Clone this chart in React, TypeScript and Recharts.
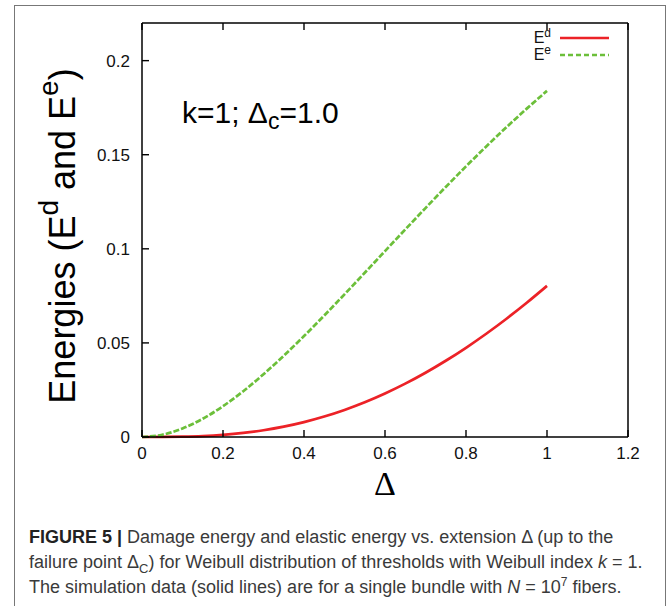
import { LineChart, Line, XAxis, YAxis, Legend } from 'recharts';

// extension Δ
const delta = [0, 0.05, 0.1, 0.15, 0.2, 0.25, 0.3, 0.35, 0.4, 0.45, 0.5, 0.55, 0.6, 0.65, 0.7, 0.75, 0.8, 0.85, 0.9, 0.95, 1.0];
// damage energy E^d
const damageEnergy = [0, 0.00002, 0.00016, 0.0005, 0.00115, 0.00216, 0.0036, 0.00551, 0.00793, 0.01088, 0.01439, 0.01846, 0.02312, 0.02834, 0.03414, 0.04051, 0.04742, 0.05488, 0.06286, 0.07134, 0.0803];
// elastic energy E^e
const elasticEnergy = [0, 0.00119, 0.00452, 0.00968, 0.01638, 0.02434, 0.03334, 0.04316, 0.05363, 0.06456, 0.07582, 0.08726, 0.09879, 0.11027, 0.12166, 0.13286, 0.14379, 0.1544, 0.16466, 0.1745, 0.18394];

const xTicks = [0, 0.2, 0.4, 0.6, 0.8, 1, 1.2];
const yTicks = [0, 0.05, 0.1, 0.15, 0.2];

const data = delta.map((d, i) => ({ delta: d, ed: damageEnergy[i], ee: elasticEnergy[i] }));

const RED = '#ec2227';
const GREEN = '#6cbf3a';
const TICK = 7;
const tickFont = { fontFamily: 'Liberation Sans, Arial, sans-serif', fontSize: 17, fill: '#111' };
const axisLine = { stroke: '#000', strokeWidth: 1.5 };

// gnuplot style: ticks point into the plot on all four sides
const BottomTick = ({ x, y, payload }: any) => (
  <g>
    <line x1={x} x2={x} y1={y} y2={y - TICK} stroke="#000" strokeWidth={1.4} />
    <text x={x} y={y + 22} textAnchor="middle" {...tickFont}>{payload.value}</text>
  </g>
);

const TopTick = ({ x, y }: any) => <line x1={x} x2={x} y1={y} y2={y + TICK} stroke="#000" strokeWidth={1.4} />;

const LeftTick = ({ x, y, payload }: any) => (
  <g>
    <line x1={x} x2={x + TICK} y1={y} y2={y} stroke="#000" strokeWidth={1.4} />
    <text x={x - 12} y={y + 6} textAnchor="end" {...tickFont}>{payload.value}</text>
  </g>
);

const RightTick = ({ x, y }: any) => <line x1={x} x2={x - TICK} y1={y} y2={y} stroke="#000" strokeWidth={1.4} />;

const YLabel = () => {
  const cx = 62;
  const cy = 22 + 416 / 2 + 6;
  return (
    <text
      x={cx}
      y={cy}
      transform={`rotate(-90 ${cx} ${cy})`}
      textAnchor="middle"
      dominantBaseline="central"
      fontFamily="Liberation Sans, Arial, sans-serif"
      fontSize={36}
      fill="#000"
    >
      Energies (E<tspan dy={-14} fontSize={28}>d</tspan>
      <tspan dy={14}> and E</tspan>
      <tspan dy={-14} fontSize={28}>e</tspan>
      <tspan dy={14}>)</tspan>
    </text>
  );
};

const XLabel = () => (
  <text
    x={141 + 488 / 2}
    y={495}
    textAnchor="middle"
    fontFamily="Liberation Serif, Times New Roman, serif"
    fontSize={34}
    fill="#000"
  >
    Δ
  </text>
);

const LegendContent = ({ payload }: any) => (
  <div style={{ fontFamily: 'Liberation Sans, Arial, sans-serif', fontSize: 16, color: '#111' }}>
    {(payload || []).map((entry: any) => (
      <div key={entry.dataKey} style={{ display: 'flex', alignItems: 'center', height: 17, justifyContent: 'flex-end' }}>
        <span style={{ lineHeight: '17px' }}>
          E<sup style={{ fontSize: 12, verticalAlign: 6, lineHeight: 0 }}>{entry.dataKey === 'ed' ? 'd' : 'e'}</sup>
        </span>
        <svg width={56} height={8} style={{ marginLeft: 8 }}>
          <line
            x1={1}
            x2={50}
            y1={4}
            y2={4}
            stroke={entry.color}
            strokeWidth={2.5}
            strokeDasharray={entry.dataKey === 'ee' ? '5 3' : undefined}
          />
        </svg>
      </div>
    ))}
  </div>
);

export default function App() {
  return (
    <div style={{ position: 'absolute', left: 0, top: 0, width: 669, height: 606, background: '#fff', overflow: 'hidden' }}>
      <div
        style={{
          position: 'absolute',
          left: 14,
          top: 5,
          width: 652,
          height: 640,
          border: '1px solid #777',
          boxSizing: 'border-box',
        }}
      />
      <div style={{ position: 'absolute', left: 0, top: 0 }}>
        <LineChart width={669} height={510} data={data} margin={{ top: 22, right: 40, bottom: 72, left: 141 }}>
          <XAxis
            dataKey="delta"
            type="number"
            domain={[0, 1.2]}
            ticks={xTicks}
            height={1}
            tickSize={0}
            tickMargin={0}
            tickLine={false}
            axisLine={axisLine}
            tick={<BottomTick />}
            interval={0}
            label={<XLabel />}
          />
          <XAxis
            xAxisId="top"
            orientation="top"
            dataKey="delta"
            type="number"
            domain={[0, 1.2]}
            ticks={xTicks}
            height={1}
            tickSize={0}
            tickMargin={0}
            tickLine={false}
            axisLine={axisLine}
            tick={<TopTick />}
            interval={0}
          />
          <YAxis
            type="number"
            domain={[0, 0.22]}
            ticks={yTicks}
            width={1}
            tickSize={0}
            tickMargin={0}
            tickLine={false}
            axisLine={axisLine}
            tick={<LeftTick />}
            interval={0}
            label={<YLabel />}
          />
          <YAxis
            yAxisId="right"
            orientation="right"
            type="number"
            domain={[0, 0.22]}
            ticks={yTicks}
            width={1}
            tickSize={0}
            tickMargin={0}
            tickLine={false}
            axisLine={axisLine}
            tick={<RightTick />}
            interval={0}
          />
          <Legend
            layout="vertical"
            align="center"
            verticalAlign="middle"
            wrapperStyle={{ position: 'absolute', left: 501, top: 29, width: 114 }}
            content={<LegendContent />}
          />
          <Line type="monotone" dataKey="ed" name="Ed" stroke={RED} strokeWidth={2.7} dot={false} isAnimationActive={false} />
          <Line
            type="monotone"
            dataKey="ee"
            name="Ee"
            stroke={GREEN}
            strokeWidth={2.7}
            strokeDasharray="6 2"
            dot={false}
            isAnimationActive={false}
          />
        </LineChart>
      </div>
      <div
        style={{
          position: 'absolute',
          left: 182,
          top: 95,
          fontFamily: 'Liberation Sans, Arial, sans-serif',
          fontSize: 30,
          lineHeight: '36px',
          color: '#000',
          whiteSpace: 'nowrap',
        }}
      >
        k=1; Δ<sub style={{ fontSize: 23, verticalAlign: -6, lineHeight: 0 }}>c</sub>=1.0
      </div>
      <div
        style={{
          position: 'absolute',
          left: 29,
          top: 525,
          fontFamily: 'Liberation Sans, Arial, sans-serif',
          fontSize: 18,
          lineHeight: '25px',
          color: '#3a3a3a',
          whiteSpace: 'nowrap',
        }}
      >
        <div>
          <b style={{ color: '#222' }}>FIGURE 5 |</b> Damage energy and elastic energy vs. extension Δ (up to the
        </div>
        <div>
          failure point Δ<sub style={{ fontSize: 13, lineHeight: 0 }}>C</sub>) for Weibull distribution of thresholds with Weibull index <i>k</i> = 1.
        </div>
        <div>
          The simulation data (solid lines) are for a single bundle with <i>N</i> = 10
          <sup style={{ fontSize: 12, lineHeight: 0 }}>7</sup> fibers.
        </div>
      </div>
    </div>
  );
}
